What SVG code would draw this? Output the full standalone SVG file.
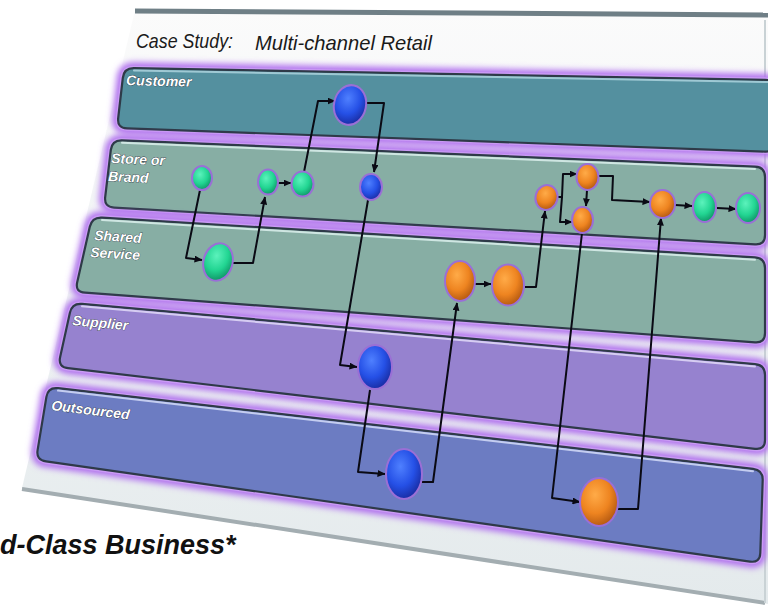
<svg xmlns="http://www.w3.org/2000/svg" width="768" height="610" viewBox="0 0 768 610">
<defs>
<style>
.lbl{font-family:"Liberation Sans",Arial,sans-serif;font-weight:bold;font-style:italic;font-size:14px;fill:#ffffff;stroke:#2a3440;stroke-width:0.7;paint-order:stroke}
.title{font-family:"Liberation Sans",Arial,sans-serif;font-style:italic;font-size:21px;fill:#1a1a1a}
.glow{fill:none;stroke:#b070ee;stroke-width:12;filter:url(#blur)}
.rim{fill:none;stroke:#c99af4;stroke-width:5}
.edge{stroke:#2e3a48;stroke-width:2.2}
.hl{fill:none;stroke-width:2;stroke-linecap:round}
.cn{fill:none;stroke:#0a0a14;stroke-width:2;stroke-linejoin:round}
.arr{marker-end:url(#ah)}
.nd{stroke:#9a6fd6;stroke-width:2}
.g{fill:url(#gG)}
.b{fill:url(#gB)}
.o{fill:url(#gO)}
</style>
<filter id="blur" x="-10%" y="-20%" width="120%" height="140%"><feGaussianBlur stdDeviation="3"/></filter>
<linearGradient id="panel" x1="0" y1="0" x2="0" y2="1">
<stop offset="0" stop-color="#fbfbfb"/><stop offset="0.5" stop-color="#eef2f3"/><stop offset="1" stop-color="#e4eaec"/>
</linearGradient>
<radialGradient id="gG" cx="0.4" cy="0.35" r="0.65">
<stop offset="0" stop-color="#5cf2bc"/><stop offset="0.6" stop-color="#22d592"/><stop offset="1" stop-color="#119a6a"/>
</radialGradient>
<radialGradient id="gB" cx="0.4" cy="0.35" r="0.65">
<stop offset="0" stop-color="#4f80ff"/><stop offset="0.6" stop-color="#2550e6"/><stop offset="1" stop-color="#1a2fa8"/>
</radialGradient>
<radialGradient id="gO" cx="0.4" cy="0.35" r="0.65">
<stop offset="0" stop-color="#ffab48"/><stop offset="0.6" stop-color="#ee8420"/><stop offset="1" stop-color="#b85c12"/>
</radialGradient>
<marker id="ah" viewBox="0 0 8 7" refX="7.5" refY="3.5" markerWidth="8" markerHeight="7" markerUnits="userSpaceOnUse" orient="auto">
<path d="M0,0 L8,3.5 L0,7 z" fill="#0a0a14"/>
</marker>
</defs>

<rect width="768" height="610" fill="#ffffff"/>

<g id="panel">
<polygon points="135,10 768,14 768,604 22,488" fill="url(#panel)"/>
<line x1="135" y1="11" x2="768" y2="15" stroke="#6f7f86" stroke-width="5"/>
<line x1="22" y1="489" x2="765" y2="603" stroke="#a3adb1" stroke-width="4"/>
<line x1="765" y1="20" x2="765" y2="603" stroke="#c9d2d5" stroke-width="2"/>
<text class="title" x="136" y="48" textLength="97" lengthAdjust="spacingAndGlyphs">Case Study:</text>
<text class="title" x="255" y="50" textLength="177" lengthAdjust="spacingAndGlyphs">Multi-channel Retail</text>
</g>

<g id="lane-customer">
<path class="glow" d="M134,68.2 L765,79.8 Q775,80 775,90 L775,142 Q775,152 765,151.6 L127,128.4 Q117,128 118.2,118 L122.8,78 Q124,68 134,68.2 Z"/>
<path class="rim" d="M134,68.2 L765,79.8 Q775,80 775,90 L775,142 Q775,152 765,151.6 L127,128.4 Q117,128 118.2,118 L122.8,78 Q124,68 134,68.2 Z"/>
<path class="edge" fill="#54909f" d="M134,68.2 L765,79.8 Q775,80 775,90 L775,142 Q775,152 765,151.6 L127,128.4 Q117,128 118.2,118 L122.8,78 Q124,68 134,68.2 Z"/>
<path class="hl" stroke="#9fc9d4" d="M134,70.5 L768,82"/>
<text class="lbl" transform="translate(126,85) rotate(1.5)">Customer</text>
</g>

<g id="lane-store">
<path class="glow" d="M122,140.4 L755,166.6 Q765,167 765,177 L765,235 Q765,245 755,244.4 L114,207.6 Q104,207 105.2,197 L110.8,150 Q112,140 122,140.4 Z"/>
<path class="rim" d="M122,140.4 L755,166.6 Q765,167 765,177 L765,235 Q765,245 755,244.4 L114,207.6 Q104,207 105.2,197 L110.8,150 Q112,140 122,140.4 Z"/>
<path class="edge" fill="#87aea4" d="M122,140.4 L755,166.6 Q765,167 765,177 L765,235 Q765,245 755,244.4 L114,207.6 Q104,207 105.2,197 L110.8,150 Q112,140 122,140.4 Z"/>
<path class="hl" stroke="#cfe6e2" d="M122,142.8 L755,169"/>
<text class="lbl" transform="translate(111,163) rotate(2.5)">Store or</text>
<text class="lbl" transform="translate(108,181) rotate(2.5)">Brand</text>
</g>

<g id="lane-shared">
<path class="glow" d="M102,217.6 L755,257.4 Q765,258 765,268 L765,333 Q765,343 755,342.3 L85,292.7 Q75,292 77.2,282.3 L89.8,226.8 Q92,217 102,217.6 Z"/>
<path class="rim" d="M102,217.6 L755,257.4 Q765,258 765,268 L765,333 Q765,343 755,342.3 L85,292.7 Q75,292 77.2,282.3 L89.8,226.8 Q92,217 102,217.6 Z"/>
<path class="edge" fill="#87aea4" d="M102,217.6 L755,257.4 Q765,258 765,268 L765,333 Q765,343 755,342.3 L85,292.7 Q75,292 77.2,282.3 L89.8,226.8 Q92,217 102,217.6 Z"/>
<path class="hl" stroke="#cfe6e2" d="M102,220 L755,259.8"/>
<text class="lbl" transform="translate(94,240) rotate(3.5)">Shared</text>
<text class="lbl" transform="translate(90,257) rotate(3.5)">Service</text>
</g>

<g id="lane-supplier">
<path class="glow" d="M82,303.9 L755,364.1 Q765,365 765,375 L765,440 Q765,450 755,448.8 L68,368.2 Q58,367 60.1,357.2 L69.9,312.8 Q72,303 82,303.9 Z"/>
<path class="rim" d="M82,303.9 L755,364.1 Q765,365 765,375 L765,440 Q765,450 755,448.8 L68,368.2 Q58,367 60.1,357.2 L69.9,312.8 Q72,303 82,303.9 Z"/>
<path class="edge" fill="#9682cf" d="M82,303.9 L755,364.1 Q765,365 765,375 L765,440 Q765,450 755,448.8 L68,368.2 Q58,367 60.1,357.2 L69.9,312.8 Q72,303 82,303.9 Z"/>
<path class="hl" stroke="#d6cdf2" d="M82,306.3 L755,366.5"/>
<text class="lbl" transform="translate(72,325) rotate(5.5)">Supplier</text>
</g>

<g id="lane-outsourced">
<path class="glow" d="M58,388.2 L753,468.8 Q763,470 762.7,480 L760.3,553 Q760,563 750,561.6 L46,461.4 Q36,460 37.6,450.1 L46.4,396.9 Q48,387 58,388.2 Z"/>
<path class="rim" d="M58,388.2 L753,468.8 Q763,470 762.7,480 L760.3,553 Q760,563 750,561.6 L46,461.4 Q36,460 37.6,450.1 L46.4,396.9 Q48,387 58,388.2 Z"/>
<path class="edge" fill="#6c7cc2" d="M58,388.2 L753,468.8 Q763,470 762.7,480 L760.3,553 Q760,563 750,561.6 L46,461.4 Q36,460 37.6,450.1 L46.4,396.9 Q48,387 58,388.2 Z"/>
<path class="hl" stroke="#c4cdf0" d="M58,390.6 L753,471.2"/>
<text class="lbl" transform="translate(51,410) rotate(7)">Outsourced</text>
</g>

<g id="connectors">
<path class="cn arr" d="M200,190 L186,258 L202,260"/>
<path class="cn arr" d="M232,263 L253,263 L265,197"/>
<path class="cn arr" d="M278,183 L291,183"/>
<path class="cn arr" d="M304,172 L318,101 L335,101"/>
<path class="cn arr" d="M366,103 L384,103 L374,172"/>
<path class="cn arr" d="M368,200 L340,365 L357,367"/>
<path class="cn arr" d="M370,390 L358,472 L385,474"/>
<path class="cn arr" d="M422,482 L433,482 L457,303"/>
<path class="cn arr" d="M475,284 L491,284"/>
<path class="cn arr" d="M525,287 L536,287 L545,211"/>
<path class="cn arr" d="M558,197 L562,197 L563,174 L577,174"/>
<path class="cn arr" d="M562,197 L560,222 L572,222"/>
<path class="cn arr" d="M587,190 L586,206"/>
<path class="cn arr" d="M598,176 L613,176 L612,200 L650,202"/>
<path class="cn arr" d="M675,205 L692,206"/>
<path class="cn arr" d="M717,208 L736,209"/>
<path class="cn arr" d="M582,233 L552,498 L580,502"/>
<path class="cn arr" d="M618,509 L638,509 L661,218"/>
</g>

<g id="n-customer"><ellipse class="nd b" cx="350" cy="105" rx="16" ry="20" transform="rotate(12 350 105)"/></g>
<g id="n-store-1"><ellipse class="nd g" cx="202" cy="178" rx="10" ry="12"/></g>
<g id="n-store-2"><ellipse class="nd g" cx="268" cy="182" rx="10" ry="12.5"/></g>
<g id="n-store-3"><ellipse class="nd g" cx="302.5" cy="184" rx="11" ry="12.5"/></g>
<g id="n-store-blue"><ellipse class="nd b" cx="371" cy="187" rx="11" ry="13"/></g>
<g id="n-shared-green"><ellipse class="nd g" cx="218" cy="262" rx="14.5" ry="19" transform="rotate(15 218 262)"/></g>
<g id="n-shared-o1"><ellipse class="nd o" cx="460" cy="281" rx="15" ry="20"/></g>
<g id="n-shared-o2"><ellipse class="nd o" cx="508" cy="285" rx="16" ry="20.5"/></g>
<g id="n-store-oa"><ellipse class="nd o" cx="546.5" cy="197.5" rx="11" ry="12.5" transform="rotate(15 546.5 197.5)"/></g>
<g id="n-store-ob"><ellipse class="nd o" cx="587.5" cy="177" rx="11" ry="13"/></g>
<g id="n-store-oc"><ellipse class="nd o" cx="582.5" cy="220" rx="10.5" ry="13"/></g>
<g id="n-store-od"><ellipse class="nd o" cx="662.5" cy="204" rx="12.5" ry="14"/></g>
<g id="n-store-g4"><ellipse class="nd g" cx="704.5" cy="207" rx="11.5" ry="15"/></g>
<g id="n-store-g5"><ellipse class="nd g" cx="748" cy="208" rx="12" ry="15"/></g>
<g id="n-supplier"><ellipse class="nd b" cx="375" cy="367" rx="17" ry="22"/></g>
<g id="n-out-blue"><ellipse class="nd b" cx="404" cy="474" rx="18" ry="25"/></g>
<g id="n-out-orange"><ellipse class="nd o" cx="599" cy="502" rx="19" ry="24"/></g>

<text x="0" y="554" font-family="Liberation Sans, Arial, sans-serif" font-weight="bold" font-style="italic" font-size="27" fill="#111111">d-Class Business*</text>
</svg>
